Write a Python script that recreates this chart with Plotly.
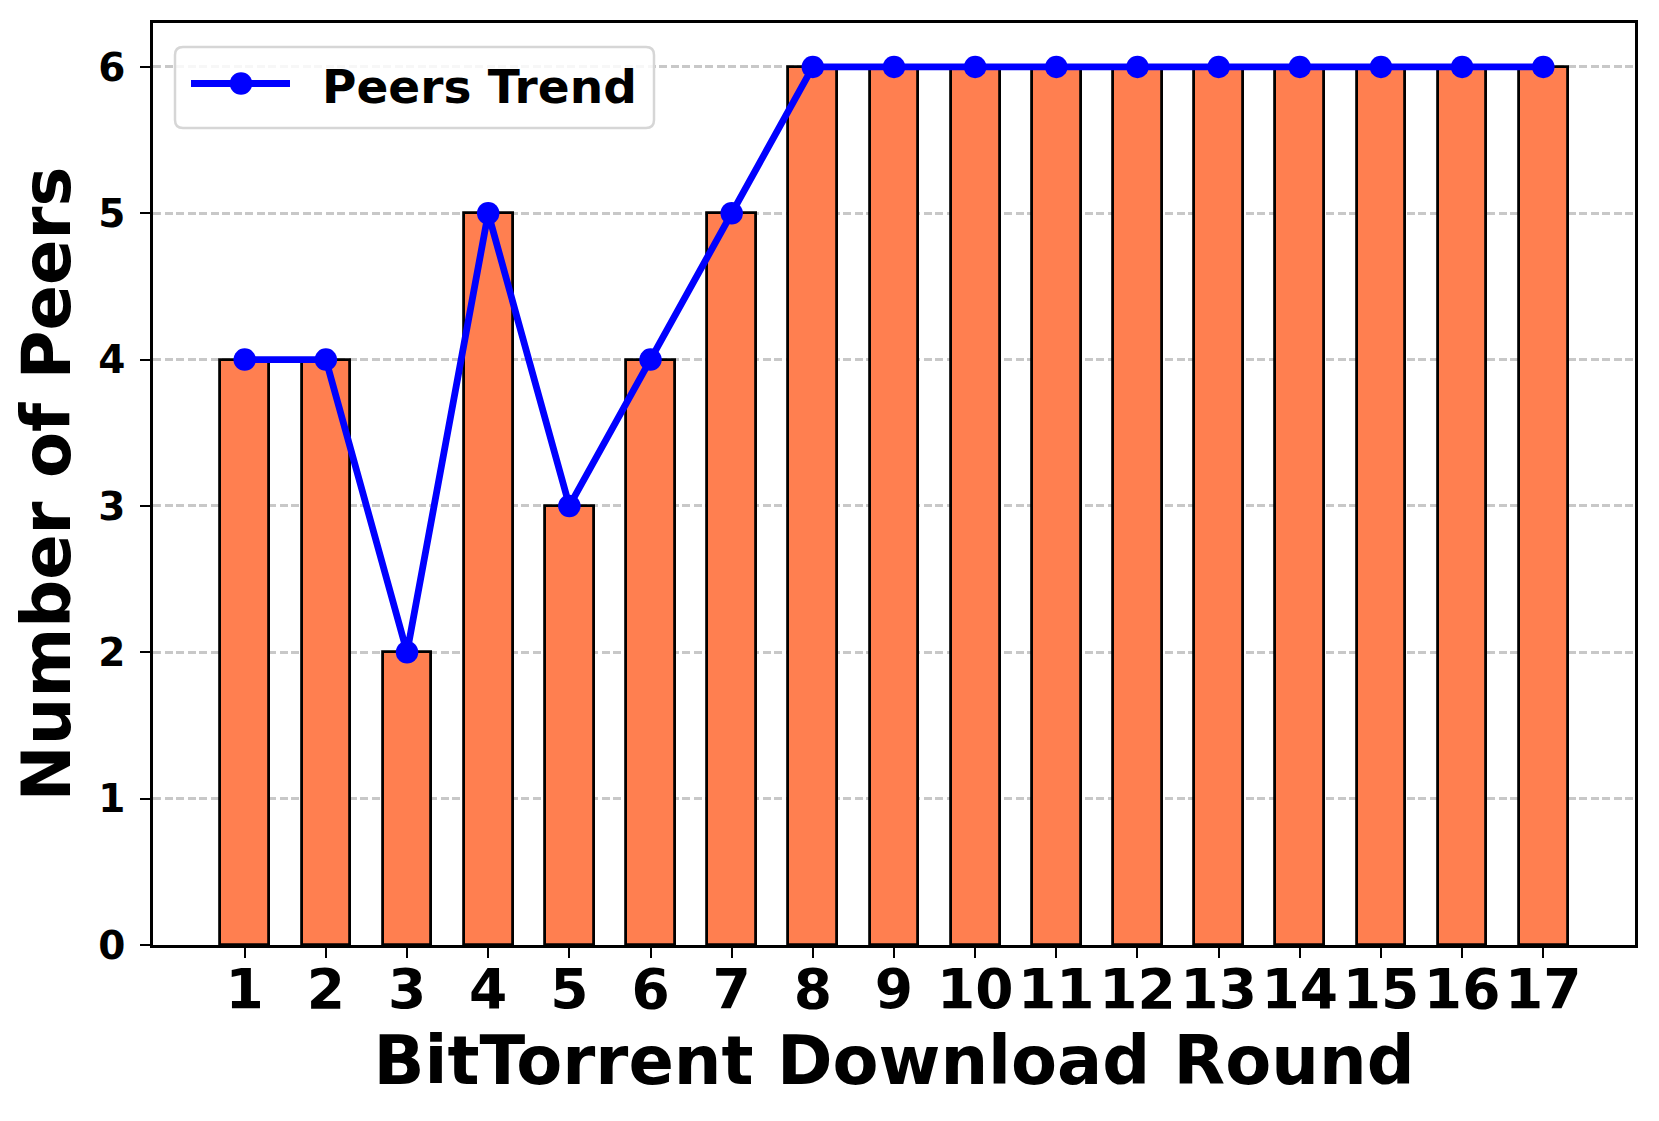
import plotly.graph_objects as go

rounds = list(range(1, 18))
peers = [4, 4, 2, 5, 3, 4, 5, 6, 6, 6, 6, 6, 6, 6, 6, 6, 6]
tick_labels = [str(r) for r in rounds]
y_ticks = [0, 1, 2, 3, 4, 5, 6]
series_name = "Peers Trend"

OFF = 8  # page body margin
W, H = 1659 - OFF, 1121 - OFF
# plot area in page pixels
L, R, T, B = 153, 1635, 23, 945
PW, PH = R - L, B - T

FONT = "DejaVu Sans"
LINE_W = 6.8
MARK = 22.5


def fx(p):
    return (p - L) / PW


def fy(p):
    return (B - p) / PH


fig = go.Figure()
fig.add_trace(go.Bar(
    x=rounds, y=peers, width=0.6,
    marker=dict(color="#FF7F50", line=dict(color="black", width=2.8)),
    showlegend=False,
))
fig.add_trace(go.Scatter(
    x=rounds, y=peers, mode="lines+markers", name=series_name,
    line=dict(color="#0000FF", width=LINE_W),
    marker=dict(color="#0000FF", size=MARK),
    showlegend=False,
))

# custom legend (matplotlib-style)
bx0, bx1, by0, by1, rad = 175, 654, 47, 128, 8


def rr_path(x0, x1, y0, y1, r):
    return (f"M{fx(x0 + r)},{fy(y0)} L{fx(x1 - r)},{fy(y0)} "
            f"Q{fx(x1)},{fy(y0)} {fx(x1)},{fy(y0 + r)} "
            f"L{fx(x1)},{fy(y1 - r)} Q{fx(x1)},{fy(y1)} {fx(x1 - r)},{fy(y1)} "
            f"L{fx(x0 + r)},{fy(y1)} Q{fx(x0)},{fy(y1)} {fx(x0)},{fy(y1 - r)} "
            f"L{fx(x0)},{fy(y0 + r)} Q{fx(x0)},{fy(y0)} {fx(x0 + r)},{fy(y0)} Z")


ly = 83.5
shapes = [
    dict(type="path", xref="paper", yref="paper", path=rr_path(bx0, bx1, by0, by1, rad),
         fillcolor="rgba(255,255,255,0.85)", line=dict(color="#d6d6d6", width=2.5), layer="above"),
    dict(type="line", xref="paper", yref="paper", x0=fx(191), x1=fx(290), y0=fy(ly), y1=fy(ly),
         line=dict(color="#0000FF", width=LINE_W), layer="above"),
    dict(type="circle", xref="paper", yref="paper", xsizemode="pixel", ysizemode="pixel",
         xanchor=fx(241), yanchor=fy(ly), x0=-MARK / 2, x1=MARK / 2, y0=-MARK / 2, y1=MARK / 2,
         fillcolor="#0000FF", line=dict(color="#0000FF", width=0), layer="above"),
]

annotations = [
    dict(text=series_name, xref="paper", yref="paper", x=fx(320), y=fy(ly + 3),
         xanchor="left", yanchor="middle", showarrow=False,
         font=dict(family=FONT, size=47, color="black", weight="bold")),
]

fig.update_layout(
    width=W, height=H,
    margin=dict(l=L - OFF, r=W + OFF - R, t=T - OFF, b=H + OFF - B, pad=0),
    paper_bgcolor="white", plot_bgcolor="white",
    shapes=shapes, annotations=annotations,
    bargap=0,
)

fig.update_xaxes(
    range=[-0.13, 18.13], tickmode="array", tickvals=rounds, ticktext=tick_labels,
    showline=True, mirror=True, linecolor="black", linewidth=2.5,
    ticks="outside", ticklen=10, tickwidth=2.2, tickcolor="black",
    ticklabelstandoff=-16,
    showgrid=False, zeroline=False,
    tickfont=dict(family=FONT, size=55, color="black", weight="bold"),
    title=dict(text="BitTorrent Download Round", standoff=18,
               font=dict(family=FONT, size=67, color="black", weight="bold")),
)
fig.update_yaxes(
    range=[0, 6.3], tickmode="array", tickvals=y_ticks, ticktext=[str(v) for v in y_ticks],
    showline=True, mirror=True, linecolor="black", linewidth=2.5,
    ticks="outside", ticklen=10, tickwidth=2.2, tickcolor="black",
    ticklabelstandoff=7,
    showgrid=True, gridcolor="#c8c8c8", gridwidth=2.5, griddash="8px,3.5px",
    zeroline=False,
    tickfont=dict(family=FONT, size=39, color="black", weight="bold"),
    title=dict(text="Number of Peers", standoff=6,
               font=dict(family=FONT, size=67, color="black", weight="bold")),
)

fig.write_html("out.html")
